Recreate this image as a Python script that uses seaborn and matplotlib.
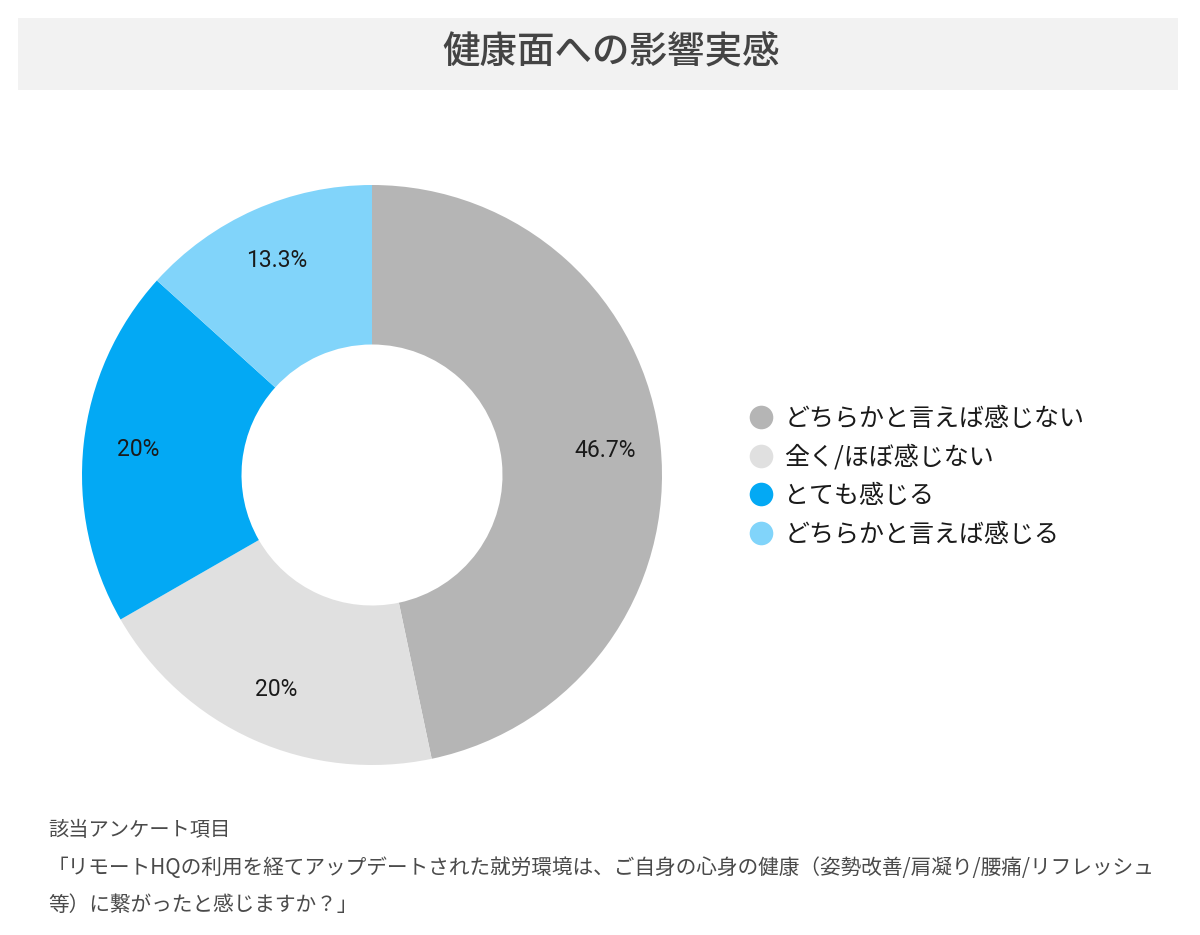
import matplotlib
matplotlib.use("Agg")
import matplotlib.pyplot as plt
import seaborn as sns
from matplotlib.patches import Rectangle
from matplotlib.lines import Line2D

# data
categories = ["どちらかと言えば感じない", "全く/ほぼ感じない", "とても感じる", "どちらかと言えば感じる"]
shares = [46.7, 20.0, 20.0, 13.3]
colors = ["#b5b5b5", "#e0e0e0", "#03a9f4", "#81d4fa"]

title = "健康面への影響実感"
note_head = "該当アンケート項目"
note_lines = [
    "「リモートHQの利用を経てアップデートされた就労環境は、ご自身の心身の健康（姿勢改善/肩凝り/腰痛/リフレッシュ",
    "等）に繋がったと感じますか？」",
]

sns.set_style("white")
plt.rcParams["font.family"] = ["Noto Sans CJK JP", "DejaVu Sans"]

W, H = 1200, 935
fig = plt.figure(figsize=(W / 100, H / 100), dpi=100)
ax = fig.add_axes([0, 0, 1, 1])
ax.set_xlim(0, W)
ax.set_ylim(0, H)
ax.set_aspect("equal")
ax.axis("off")

# title bar
ax.add_patch(Rectangle((18, H - 90), 1160, 72, facecolor="#f2f2f2", edgecolor="none"))
ax.text(611, H - 52, title, ha="center", va="center", fontsize=27,
        fontweight="medium", color="#444444")

# donut
cx, cy, r = 372, H - 475, 290


def fmt(p):
    s = f"{p:.1f}"
    return (s[:-2] if s.endswith(".0") else s) + "%"


wedges, texts, autotexts = ax.pie(
    shares, colors=colors, startangle=90, counterclock=False,
    center=(cx, cy), radius=r, autopct=fmt, pctdistance=0.81,
    wedgeprops=dict(width=r * 0.55, edgecolor="none"),
    textprops=dict(fontsize=16.5, color="#1a1a1a", family=["Roboto", "DejaVu Sans"]),
)
ax.set_xlim(0, W)
ax.set_ylim(0, H)

# legend
handles = [Line2D([0], [0], marker="o", linestyle="none", markersize=17,
                  markerfacecolor=c, markeredgecolor="none") for c in colors]
leg = ax.legend(handles, categories, loc="upper left",
                bbox_to_anchor=(738 / W, 1 - 396 / H), frameon=False,
                fontsize=18, handletextpad=0.45, labelspacing=0.5,
                handlelength=1.0, borderaxespad=0)
for t in leg.get_texts():
    t.set_color("#1a1a1a")

# footnote
ax.text(48, H - 830, note_head, ha="left", va="center", fontsize=14.6, color="#4a4a4a")
for i, line in enumerate(note_lines):
    ax.text(48, H - 868 - 37 * i, line, ha="left", va="center",
            fontsize=14.9, color="#4a4a4a")

fig.savefig("out.png", dpi=100)
